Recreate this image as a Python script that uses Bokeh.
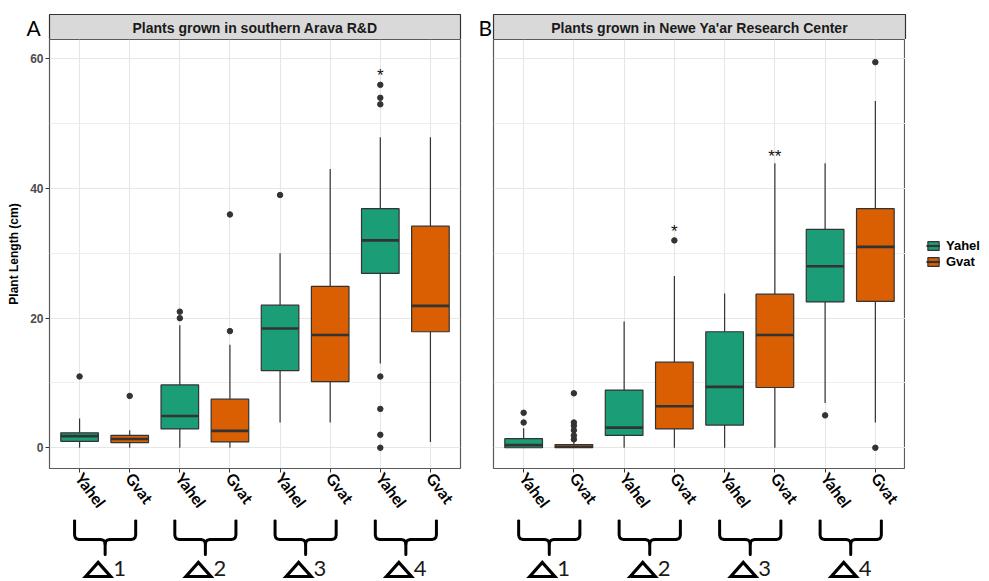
from bokeh.plotting import figure
from bokeh.layouts import row, column
from bokeh.models import ColumnDataSource, Range1d, FixedTicker, Legend, LegendItem
from bokeh.core.properties import value
from bokeh.embed import file_html
from bokeh.resources import INLINE

# ---------------- data ----------------
categories = ["Yahel", "Gvat", "Yahel", "Gvat", "Yahel", "Gvat", "Yahel", "Gvat"]
positions = [1, 2, 3, 4, 5, 6, 7, 8]
groups = ["Yahel", "Gvat"]
treatment_labels = ["1", "2", "3", "4"]
panel_letters = ["A", "B"]
y_ticks = [0, 20, 40, 60]
y_minor = [10, 30, 50]

arava_title = "Plants grown in southern Arava R&D"
arava_low = [0, 0, 0, 0, 3.9, 3.9, 13.0, 0.9]
arava_q1 = [1.0, 0.8, 2.9, 0.9, 11.9, 10.2, 26.9, 17.9]
arava_med = [1.8, 1.35, 4.9, 2.6, 18.4, 17.4, 32.0, 21.9]
arava_q3 = [2.3, 1.9, 9.7, 7.5, 22.0, 24.9, 36.9, 34.2]
arava_high = [4.5, 2.7, 18.9, 15.9, 30.0, 43.0, 47.9, 47.9]
arava_outliers = [[11], [8], [20, 21], [18, 36], [39], [], [0, 2, 6, 11, 53, 54, 56], []]
arava_sig_pos = [7]
arava_sig_text = ["*"]
arava_sig_y = [57.4]

newe_title = "Plants grown in Newe Ya'ar Research Center"
newe_low = [0, 0, 0, 0, 0, 0, 6.9, 3.9]
newe_q1 = [0, 0, 1.9, 2.9, 3.5, 9.3, 22.5, 22.6]
newe_med = [0.4, 0.15, 3.1, 6.4, 9.4, 17.4, 28.0, 31.0]
newe_q3 = [1.4, 0.5, 8.9, 13.2, 17.9, 23.7, 33.7, 36.9]
newe_high = [3.0, 1.0, 19.5, 26.5, 23.8, 43.9, 43.9, 53.5]
newe_outliers = [[3.9, 5.4], [1.3, 1.9, 2.7, 3.4, 3.9, 8.4], [], [32], [], [], [5.0], [0, 59.5]]
newe_sig_pos = [4, 6]
newe_sig_text = ["*", "**"]
newe_sig_y = [33.4, 45.0]

colors = {"Yahel": "#1B9E77", "Gvat": "#D95F02"}

# ---------------- style / layout ----------------
GG = "Liberation Sans"
PPT = "Lato"
X_LO, X_HI = 0.4, 8.6
Y_LO, Y_HI = -3.2, 63.0
BOX_W = 0.75
EDGE = "#333333"
TOTAL_W, TOTAL_H = 989, 581
STRIP_H = 39
WA, BLA, BRA = 470, 49, 10
WB, BLB, BRB = 435, 23, 0
MAIN_H = 480
BRACE_H = TOTAL_H - STRIP_H - MAIN_H


def bare(width, height, xr, yr, bl=0, br=0):
    f = figure(width=width, height=height, x_range=xr, y_range=yr,
               x_axis_location=None, y_axis_location=None,
               toolbar_location=None, output_backend="svg",
               min_border_left=bl, min_border_right=br, min_border_top=0, min_border_bottom=0)
    f.grid.visible = False
    f.outline_line_color = None
    f.background_fill_color = "white"
    f.border_fill_color = "white"
    return f


def strip_fig():
    s = bare(TOTAL_W, STRIP_H, Range1d(0, TOTAL_W), Range1d(STRIP_H, 0))
    lefts = [BLA, WA + BLB]
    rights = [WA - BRA, WA + WB - BRB]
    s.quad(left=lefts, right=rights, top=[14, 14], bottom=[STRIP_H, STRIP_H],
           fill_color="#D9D9D9", line_color=EDGE, line_width=1.2)
    s.text(x=[(l + r) / 2 for l, r in zip(lefts, rights)], y=[27, 27],
           text=[arava_title, newe_title], text_align="center", text_baseline="middle",
           text_font=value(GG), text_font_style="bold", text_font_size="14px", text_color="#1A1A1A")
    s.text(x=[lefts[0] - 23, lefts[1] - 15], y=[27, 27], text=panel_letters,
           text_align="left", text_baseline="middle",
           text_font=value(PPT), text_font_size="21px", text_color="black")
    return s


def main_fig(width, bl, br, low, q1, med, q3, high, outl, sig_pos, sig_text, sig_y, show_y):
    p = figure(width=width, height=MAIN_H, x_range=Range1d(X_LO, X_HI), y_range=Range1d(Y_LO, Y_HI),
               toolbar_location=None, output_backend="svg",
               min_border_left=bl, min_border_right=br, min_border_top=0, min_border_bottom=49)
    p.background_fill_color = "white"
    p.border_fill_color = "white"
    p.outline_line_color = "#5A5A5A"
    p.outline_line_width = 1.2

    yt = FixedTicker(ticks=y_ticks, minor_ticks=y_minor)
    xt = FixedTicker(ticks=positions)
    p.yaxis.ticker = yt
    p.ygrid.ticker = yt
    p.xaxis.ticker = xt
    p.xgrid.ticker = xt
    p.grid.grid_line_color = "#E6E6E6"
    p.grid.grid_line_width = 1.1
    p.ygrid.minor_grid_line_color = "#EEEEEE"
    p.ygrid.minor_grid_line_width = 1

    p.xaxis.major_label_overrides = {pos: c for pos, c in zip(positions, categories)}
    p.xaxis.major_label_orientation = -0.93
    p.xaxis.major_label_text_font = PPT
    p.xaxis.major_label_text_font_style = "bold"
    p.xaxis.major_label_text_font_size = "16px"
    p.xaxis.major_label_text_color = "black"
    p.xaxis.major_label_standoff = 2
    p.axis.axis_line_color = None
    p.axis.minor_tick_line_color = None
    p.axis.major_tick_in = 0
    p.axis.major_tick_out = 4
    p.axis.major_tick_line_color = EDGE

    if show_y:
        p.yaxis.axis_label = "Plant Length (cm)"
        p.yaxis.axis_label_text_font = GG
        p.yaxis.axis_label_text_font_style = "bold"
        p.yaxis.axis_label_text_font_size = "12px"
        p.yaxis.axis_label_text_color = "black"
        p.yaxis.axis_label_standoff = 6
        p.yaxis.major_label_text_font = GG
        p.yaxis.major_label_text_font_style = "bold"
        p.yaxis.major_label_text_font_size = "12px"
        p.yaxis.major_label_text_color = "#4D4D4D"
        p.yaxis.major_label_standoff = 2
    else:
        p.yaxis.visible = False

    # whiskers
    wsrc = ColumnDataSource(dict(x=positions, low=low, q1=q1, q3=q3, high=high))
    p.segment(x0="x", y0="low", x1="x", y1="q1", source=wsrc, line_color=EDGE, line_width=1.2)
    p.segment(x0="x", y0="q3", x1="x", y1="high", source=wsrc, line_color=EDGE, line_width=1.2)

    for g in groups:
        idx = [i for i, c in enumerate(categories) if c == g]
        src = ColumnDataSource(dict(
            x=[positions[i] for i in idx],
            x0=[positions[i] - BOX_W / 2 for i in idx],
            x1=[positions[i] + BOX_W / 2 for i in idx],
            q1=[q1[i] for i in idx], med=[med[i] for i in idx], q3=[q3[i] for i in idx]))
        p.vbar(x="x", width=BOX_W, bottom="q1", top="q3", source=src,
               fill_color=colors[g], line_color=EDGE, line_width=1.2)
        p.segment(x0="x0", y0="med", x1="x1", y1="med", source=src,
                  line_color=EDGE, line_width=2.6)

    ox, oy = [], []
    for pos, vals in zip(positions, outl):
        for v in vals:
            ox.append(pos)
            oy.append(v)
    p.scatter(ox, oy, size=5.5, fill_color=EDGE, line_color=EDGE)

    p.text(x=sig_pos, y=sig_y, text=sig_text, text_align="center", text_baseline="alphabetic",
           text_font=value(GG), text_font_size="17px", text_color="#111111")
    return p


def brace_fig(width, bl, br, xr):
    frame_w = width - bl - br
    b = bare(width, BRACE_H, xr, Range1d(BRACE_H, 0), bl, br)
    k = (X_HI - X_LO) / frame_w  # data units per pixel
    xs, ys, txs, tys, dx, dy = [], [], [], [], [], []
    for j in range(4):
        a, c2 = positions[2 * j], positions[2 * j + 1]
        L = a - 5 * k
        R = c2 + 6 * k
        C = (a + c2) / 2 + 0.5 * k
        xs.append([L, L, L + 0.6 * k, L + 2 * k, L + 4.5 * k, C - 4.5 * k, C - 2 * k, C - 0.6 * k, C, C])
        ys.append([1, 15.5, 18, 19.4, 20, 20, 20.6, 22, 24.5, 35])
        xs.append([R, R, R - 0.6 * k, R - 2 * k, R - 4.5 * k, C + 4.5 * k, C + 2 * k, C + 0.6 * k, C])
        ys.append([1, 15.5, 18, 19.4, 20, 20, 20.6, 22, 24.5])
        tc = C - 7 * k
        txs.append([tc - 12.5 * k, tc, tc + 12.5 * k])
        tys.append([57, 43, 57])
        dx.append(C + 8 * k)
        dy.append(48.5)
    b.multi_line(xs, ys, line_color="black", line_width=3, line_join="round", line_cap="round")
    b.patches(txs, tys, fill_color=None, line_color="black", line_width=3.2, line_join="miter")
    b.text(x=dx, y=dy, text=treatment_labels, text_align="left", text_baseline="middle",
           text_font=value(PPT), text_font_size="22px", text_color="#1A1A1A")
    return b


def legend_fig(width, height):
    lf = bare(width, height, Range1d(0, 1), Range1d(0, 1))
    items = []
    for g in groups:
        # key glyphs only (kept outside the visible range)
        br_ = lf.vbar(x=[-5], width=0.1, bottom=[-5], top=[-4], fill_color=colors[g],
                      line_color=EDGE, line_width=1.2)
        mr = lf.segment(x0=[-5], y0=[-5], x1=[-4], y1=[-5], line_color=EDGE, line_width=2.2)
        items.append(LegendItem(label=g, renderers=[br_, mr]))
    leg = Legend(items=items, location=(21, 312), border_line_color=None,
                 background_fill_alpha=0, label_text_font=GG, label_text_font_style="bold",
                 label_text_font_size="13px", label_text_color="black",
                 glyph_width=14, glyph_height=11, spacing=1, padding=4, margin=0,
                 label_standoff=6, label_height=13)
    lf.add_layout(leg)
    return lf


top = strip_fig()
pA = main_fig(WA, BLA, BRA, arava_low, arava_q1, arava_med, arava_q3, arava_high, arava_outliers,
              arava_sig_pos, arava_sig_text, arava_sig_y, True)
bA = brace_fig(WA, BLA, BRA, pA.x_range)
pB = main_fig(WB, BLB, BRB, newe_low, newe_q1, newe_med, newe_q3, newe_high, newe_outliers,
              newe_sig_pos, newe_sig_text, newe_sig_y, False)
bB = brace_fig(WB, BLB, BRB, pB.x_range)
lg = legend_fig(TOTAL_W - WA - WB, MAIN_H + BRACE_H)

layout = column(top,
                row(column(pA, bA, spacing=0), column(pB, bB, spacing=0), lg, spacing=0),
                spacing=0)

open("out.html", "w").write(file_html(layout, INLINE))
